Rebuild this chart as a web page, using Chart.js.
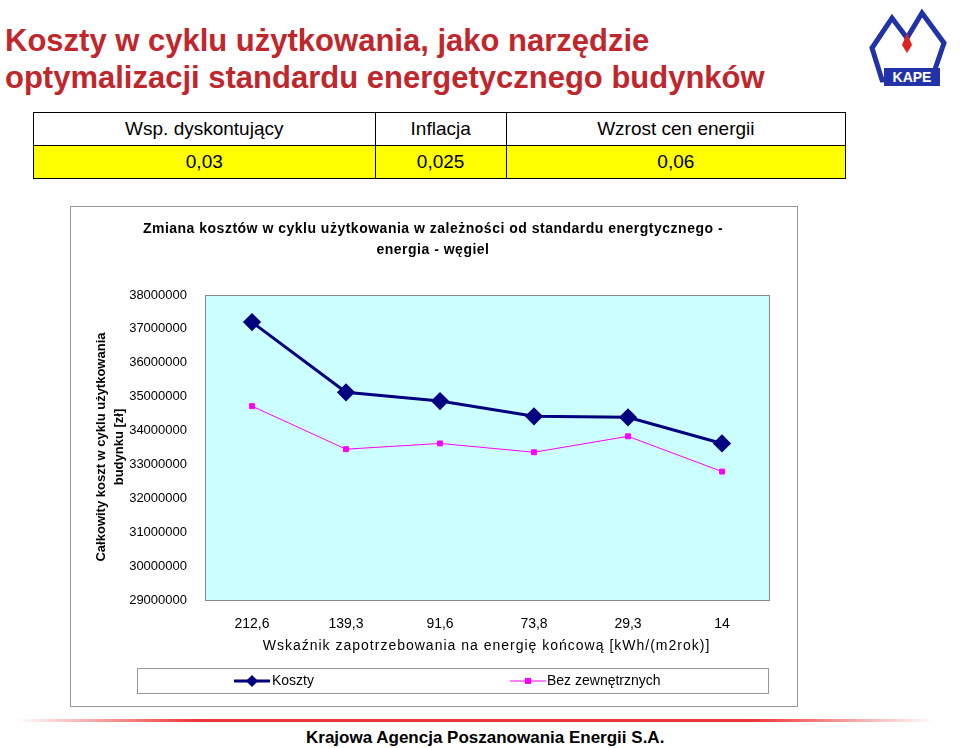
<!DOCTYPE html>
<html><head><meta charset="utf-8">
<script src="https://cdn.jsdelivr.net/npm/chart.js@4"></script>
<style>
body{margin:0;width:960px;height:748px;background:#fff;font-family:Arial,"Liberation Sans",sans-serif;position:relative;overflow:hidden}
.abs{position:absolute}
#h{left:5px;top:22px;color:#c0272d;font-weight:bold;font-size:31px;line-height:37px}
table{position:absolute;left:33px;top:112px;width:813px;border-collapse:collapse;font-size:19px}
td{border:1px solid #000;text-align:center;height:32px;padding:0}
#box{left:70px;top:206px;width:726px;height:499px;border:1px solid #999}
</style></head><body>
<div id="h" class="abs">Koszty w cyklu użytkowania, jako narzędzie<br>optymalizacji standardu energetycznego budynków</div>
<div class="abs" style="left:862px;top:8px;width:90px;height:86px;">
<svg width="90" height="86"><path d="M10 40 L30 10 L45 30 L60 5 L82 35 L70 70 L20 72 Z" fill="none" stroke="#2233aa" stroke-width="5"/><path d="M45 25 l5 12 l-5 8 l-5-8z" fill="#d22"/><rect x="22" y="60" width="56" height="18" fill="#2233aa"/><text x="50" y="74" fill="#fff" font-size="14" font-weight="bold" text-anchor="middle" font-family="Arial">KAPE</text></svg></div>
<table><tr><td>Wsp. dyskontujący</td><td>Inflacja</td><td>Wzrost cen energii</td></tr>
<tr style="background:#ffff00"><td>0,03</td><td>0,025</td><td>0,06</td></tr></table>
<div id="box" class="abs"><canvas id="c" width="726" height="499"></canvas></div>
<div class="abs" style="left:70px;top:218px;width:726px;text-align:center;font-weight:bold;font-size:14px;letter-spacing:0.5px;line-height:21px">Zmiana kosztów w cyklu użytkowania w zależności od standardu energtycznego -<br>energia - węgiel</div>
<div class="abs" style="left:110px;top:447px;transform:translate(-50%,-50%) rotate(-90deg);width:300px;text-align:center;font-weight:bold;font-size:13px;line-height:18px">Całkowity koszt w cyklu użytkowania<br>budynku [zł]</div>
<div class="abs" style="left:205px;top:637px;width:563px;text-align:center;font-size:14px;letter-spacing:1px">Wskaźnik zapotrzebowania na energię końcową [kWh/(m2rok)]</div>
<div class="abs" style="left:137px;top:668px;width:630px;height:24px;border:1px solid #999;font-size:14px">
<svg class="abs" style="left:96px;top:4px" width="36" height="16"><line x1="0" y1="8" x2="36" y2="8" stroke="#000080" stroke-width="3"/><path d="M18 2 l6 6 l-6 6 l-6 -6z" fill="#000080"/></svg>
<span class="abs" style="left:134px;top:3px">Koszty</span>
<svg class="abs" style="left:372px;top:4px" width="36" height="16"><line x1="0" y1="8" x2="36" y2="8" stroke="#ff00ff" stroke-width="1"/><rect x="15" y="5" width="6" height="6" fill="#ff00ff"/></svg>
<span class="abs" style="left:409px;top:3px">Bez zewnętrznych</span></div>
<div class="abs" style="left:15px;top:719px;width:920px;height:3px;background:linear-gradient(90deg,#fff,#e33 20%,#e33 80%,#fff)"></div>
<div class="abs" style="left:306px;top:728px;font-weight:bold;font-size:17px">Krajowa Agencja Poszanowania Energii S.A.</div>
<script>
const categories=["212,6","139,3","91,6","73,8","29,3","14"];
const koszty=[37200000,35130000,34870000,34420000,34390000,33620000];
const bez=[34720000,33450000,33620000,33360000,33830000,32790000];
const yMin=29000000,yMax=38000000,yStep=1000000;
const bg={id:'bg',beforeDraw(c){const a=c.chartArea,x=c.ctx;x.save();x.fillStyle='#ccffff';x.fillRect(a.left,a.top,a.right-a.left,a.bottom-a.top);x.strokeStyle='#888';x.lineWidth=1;x.strokeRect(a.left+.5,a.top+.5,a.right-a.left,a.bottom-a.top);x.restore();}};
new Chart(document.getElementById('c'),{type:'line',
data:{labels:categories,datasets:[
{label:'Koszty',data:koszty,borderColor:'#000080',backgroundColor:'#000080',borderWidth:3,pointStyle:'rectRot',pointRadius:7,tension:0},
{label:'Bez zewnętrznych',data:bez,borderColor:'#ff00ff',backgroundColor:'#ff00ff',borderWidth:1,pointStyle:'rect',pointRadius:3.5,tension:0}]},
options:{responsive:false,animation:false,layout:{padding:{left:50,right:28,top:88,bottom:0}},
plugins:{legend:{display:false},tooltip:{enabled:false}},
scales:{x:{offset:true,grid:{display:false},border:{color:'#888'},ticks:{color:'#000',font:{size:14,family:'Arial'},padding:8},afterFit(s){s.height=106;}},
y:{min:yMin,max:yMax,ticks:{stepSize:yStep,color:'#000',font:{size:13,family:'Arial'},padding:10,callback:v=>String(v)},grid:{display:false,drawOnChartArea:false},border:{color:'#888'},afterFit(s){s.width=84;}}}},
plugins:[bg]});
</script></body></html>
